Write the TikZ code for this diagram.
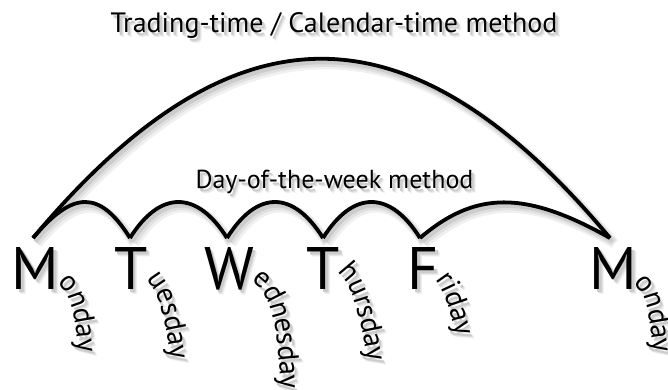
\documentclass[tikz,border=0pt]{standalone}
\usepackage{fontspec}
\setmainfont{PT Sans}
\usetikzlibrary{decorations.text}
\pgfdeclarelayer{shadow}
\pgfsetlayers{shadow,main}
\newcommand\bigfont{\fontsize{60}{60}\selectfont}
\newcommand\titlefont{\fontsize{28}{28}\selectfont}
\newcommand\dayfont{\fontsize{26}{26}\selectfont}
\newcommand\tailfont{\fontsize{29}{29}\selectfont}
\tikzset{
  lbl/.style={inner sep=0pt, outer sep=0pt, anchor=base, text=black},
  shA/.style={text=black!6, xshift=4.5pt, yshift=-5.5pt},
  shB/.style={text=black!12, xshift=3.5pt, yshift=-4.5pt},
  shC/.style={text=black!20, xshift=2.5pt, yshift=-3.5pt},
  arcline/.style={draw=black, line width=3.8pt},
}
% shadowed label: name, position, font, text
\newcommand\shlabel[4]{%
  \begin{pgfonlayer}{shadow}
    \node[lbl,shA] (#1-a) at (#2) {#3#4};
    \node[lbl,shB] (#1-b) at (#2) {#3#4};
    \node[lbl,shC] (#1-c) at (#2) {#3#4};
  \end{pgfonlayer}
  \node[lbl] (#1) at (#2) {#3#4};
}
\newcommand\drawarcs[1]{%
  \draw[#1] (v1) .. controls +(200,239) and +(-200,239) .. (v6);
  \draw[#1] (v1) .. controls +(40,48) and +(-30,48) .. (v2);
  \draw[#1] (v2) .. controls +(30,48) and +(-30,48) .. (v3);
  \draw[#1] (v3) .. controls +(30,48) and +(-30,48) .. (v4);
  \draw[#1] (v4) .. controls +(30,48) and +(-30,48) .. (v5);
  \draw[#1] (v5) .. controls +(55,47) and +(-85,48) .. (v6);
}
% colour, start, first control, second control, end, text
\newcommand\tail[6]{%
  \path[decorate,decoration={text along path,text align=left,
    text={|\tailfont\color{#1}|#6}}] (#2) .. controls +(#3) and +(#4) .. (#5);}
\newcommand\alltails[1]{%
  \tail{#1}{57,-283}{-35:22}{95:40}{79,-365}{onday}
  \tail{#1}{146,-279}{-45:22}{97:45}{172,-372}{uesday}
  \tail{#1}{251,-281}{-25:25}{92:70}{281,-402}{ednesday}
  \tail{#1}{337,-272}{-35:25}{100:45}{370,-377}{hursday}
  \tail{#1}{435,-280}{-45:18}{105:25}{460,-352}{riday}
  \tail{#1}{633,-283}{-35:20}{98:40}{655,-365}{onday}
}
\begin{document}
\begin{tikzpicture}[x=1pt,y=1pt]
\useasboundingbox (0,0) rectangle (668,-389);

\shlabel{title}{334,-32}{\titlefont}{Trading-time / Calendar-time method}
\shlabel{dow}{334.5,-188}{\dayfont}{Day-of-the-week method}
\shlabel{M1}{35.5,-289}{\bigfont}{M}
\shlabel{T1}{131,-289}{\bigfont}{T}
\shlabel{W}{229,-289}{\bigfont}{W}
\shlabel{T2}{323.5,-289}{\bigfont}{T}
\shlabel{F}{423.5,-289}{\bigfont}{F}
\shlabel{M2}{613.5,-289}{\bigfont}{M}

\coordinate (v1) at ([shift={(-2.5,9)}]M1.north);
\coordinate (v2) at ([shift={(-1,9)}]T1.north);
\coordinate (v3) at ([shift={(-2,9)}]W.north);
\coordinate (v4) at ([shift={(-0.5,9)}]T2.north);
\coordinate (v5) at ([shift={(-3.5,9)}]F.north);
\coordinate (v6) at ([shift={(-3.5,9)}]M2.north);

\begin{pgfonlayer}{shadow}
  \drawarcs{draw=black!6, line width=10pt, transform canvas={shift={(4.5pt,-5.5pt)}}}
  \drawarcs{draw=black!12, line width=7pt, transform canvas={shift={(3.5pt,-4.5pt)}}}
  \drawarcs{draw=black!20, line width=4pt, transform canvas={shift={(2.5pt,-3.5pt)}}}
  \begin{scope}[transform canvas={shift={(4.5pt,-5.5pt)}}]\alltails{black!6}\end{scope}
  \begin{scope}[transform canvas={shift={(3.5pt,-4.5pt)}}]\alltails{black!12}\end{scope}
  \begin{scope}[transform canvas={shift={(2.5pt,-3.5pt)}}]\alltails{black!20}\end{scope}
\end{pgfonlayer}

\drawarcs{arcline}
\alltails{black}
\end{tikzpicture}
\end{document}
